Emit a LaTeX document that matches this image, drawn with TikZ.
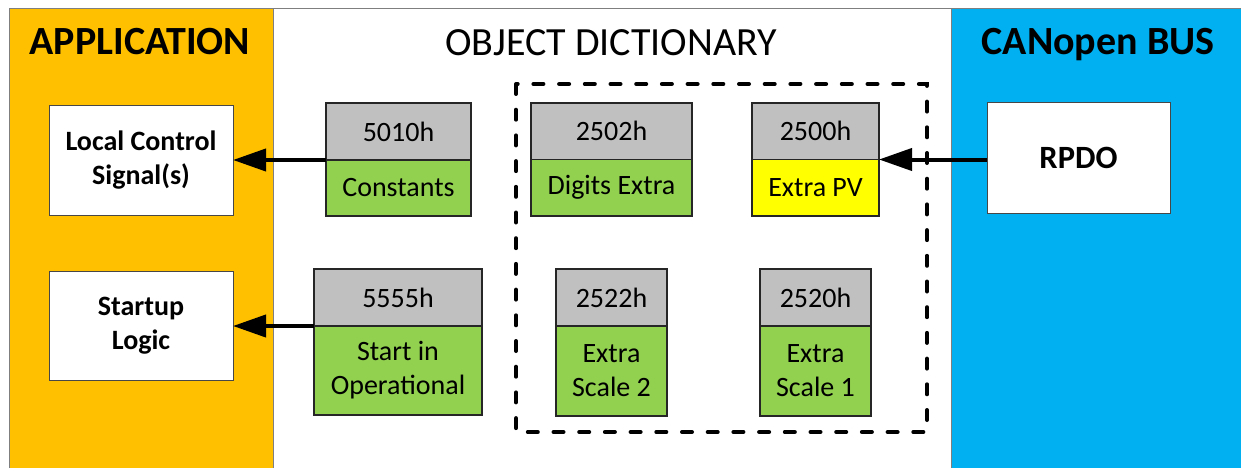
\documentclass[tikz,border=0pt]{standalone}
\usepackage{fontspec}
\setmainfont{Carlito}
\usetikzlibrary{arrows.meta}
\definecolor{appor}{HTML}{FFC000}
\definecolor{busblue}{HTML}{00B0F0}
\definecolor{hdgray}{HTML}{C0C0C0}
\definecolor{objgreen}{HTML}{92D050}
\definecolor{objyellow}{HTML}{FFFF00}
\definecolor{edgedark}{HTML}{262626}
\definecolor{panelline}{HTML}{7F7F7F}
\tikzset{
  panel/.style={draw=panelline, line width=1pt},
  title/.style={font=\fontsize{40}{47}\selectfont, anchor=base, inner sep=0pt},
  btitle/.style={title, font=\fontsize{40}{47}\selectfont\bfseries},
  whitebox/.style={draw=edgedark!85, line width=1pt, fill=white, inner sep=0pt, outer sep=0pt,
    align=center, font=\fontsize{28}{34}\selectfont\bfseries},
  objpart/.style={draw=edgedark, line width=1.6pt, inner sep=0pt, outer sep=0pt,
    align=center, font=\fontsize{28}{34}\selectfont},
  hd/.style={objpart, fill=hdgray},
  bodyg/.style={objpart, fill=objgreen},
  bodyy/.style={objpart, fill=objyellow},
  conn/.style={line width=4pt, -{Triangle[length=33pt,width=22pt]}},
  groupbox/.style={draw, line width=4pt, dash pattern=on 10pt off 15.7pt, line cap=round}
}
\begin{document}
\begin{tikzpicture}[x=1pt,y=-1pt]
\useasboundingbox (0,0) rectangle (1241,468);
% panels
\fill[appor] (9,9) rectangle (273,472);
\draw[panel] (9,472) -- (9,9) -- (273,9) -- (273,472);
\draw[panel] (273,9) -- (951,9);
\fill[busblue] (951,9) rectangle (1245,472);
\draw[panel] (951,472) -- (951,9) -- (1245,9);
% titles
\node[btitle] (tapp) at (140,55) {APPLICATION};
\node[title] (tod) at (611,56) {OBJECT DICTIONARY};
\node[btitle] (tbus) at (1098,55) {CANopen BUS};
% group
\draw[groupbox] (516,84) rectangle (927,432);
% application boxes
\node[whitebox, minimum width=184pt, minimum height=109pt] (lcs) at (141,160.5) {Local Control\\Signal(s)};
\node[whitebox, minimum width=184pt, minimum height=109pt] (sul) at (141,325.5) {Startup\\Logic};
% bus box
\node[whitebox, minimum width=183pt, minimum height=110pt, font=\fontsize{32.5}{38}\selectfont\bfseries] (rpdo) at (1078.5,158) {RPDO};
% objects
\node[hd, minimum width=145pt, minimum height=57pt] (h5010) at (398.5,131.5) {5010h};
\node[bodyg, minimum width=145pt, minimum height=56pt] (b5010) at (398.5,188) {Constants};
\node[hd, minimum width=168pt, minimum height=57pt] (h5555) at (398,297.5) {5555h};
\node[bodyg, minimum width=168pt, minimum height=89pt] (b5555) at (398,370.5) {Start in\\Operational};
\node[hd, minimum width=161pt, minimum height=56.5pt] (h2502) at (611.5,131.25) {2502h};
\node[bodyg, minimum width=161pt, minimum height=56.5pt] (b2502) at (611.5,187.75) {Digits Extra};
\node[hd, minimum width=127pt, minimum height=56.5pt] (h2500) at (815.5,131.25) {2500h};
\node[bodyy, minimum width=127pt, minimum height=56.5pt] (b2500) at (815.5,187.75) {Extra PV};
\node[hd, minimum width=111pt, minimum height=57pt] (h2522) at (611.5,297.5) {2522h};
\node[bodyg, minimum width=111pt, minimum height=90pt] (b2522) at (611.5,371) {Extra\\Scale 2};
\node[hd, minimum width=111pt, minimum height=57pt] (h2520) at (815.5,297.5) {2520h};
\node[bodyg, minimum width=111pt, minimum height=90pt] (b2520) at (815.5,371) {Extra\\Scale 1};
% connectors
\draw[conn] (h5010.south west) -- (lcs.east |- h5010.south west);
\draw[conn] (h5555.south west) -- (sul.east |- h5555.south west);
\draw[conn] (rpdo.west |- h2500.south east) -- (h2500.south east);
\end{tikzpicture}
\end{document}
